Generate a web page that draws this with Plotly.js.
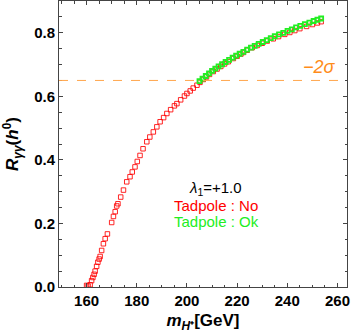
<!DOCTYPE html>
<html>
<head>
<meta charset="utf-8">
<script src="https://cdn.plot.ly/plotly-3.0.1.min.js"></script>
<style>
  html, body { margin: 0; padding: 0; background: #fff; }
  #chart { width: 361px; height: 336px; }
</style>
</head>
<body>
<div id="chart"></div>
<script>
// Tadpole : No (red) points, m_H+ vs R_gamma gamma
const mNo = [160.0, 160.6, 161.4, 162.0, 162.5, 163.0, 163.4, 164.0, 164.5, 165.0,
  165.4, 166.0, 166.7, 167.4, 168.3, 170.0, 170.7, 171.4, 172.0, 172.5,
  173.6, 174.7, 176.0, 177.3, 178.2, 179.3, 180.2, 181.3, 182.5, 184.0,
  185.2, 186.6, 188.0, 189.3, 190.7, 192.0, 193.5, 195.0, 196.0, 197.5,
  199.0, 200.0, 201.3, 202.5, 204.0, 205.2, 206.5, 207.8, 209.0, 210.5,
  212.0, 213.5, 215.0, 216.5, 218.5, 220.0, 221.5, 222.5, 224.0, 226.0,
  228.0, 230.0, 232.0, 234.4, 236.5, 239.0, 241.0, 243.0, 245.0, 247.7,
  250.0, 252.0, 253.5];
const rNo = [0.005, 0.003, 0.007, 0.020, 0.030, 0.040, 0.050, 0.065, 0.078, 0.088,
  0.096, 0.115, 0.136, 0.152, 0.167, 0.203, 0.222, 0.237, 0.255, 0.262,
  0.283, 0.305, 0.331, 0.347, 0.362, 0.378, 0.395, 0.414, 0.435, 0.457,
  0.472, 0.488, 0.504, 0.520, 0.533, 0.546, 0.558, 0.570, 0.577, 0.589,
  0.601, 0.609, 0.617, 0.626, 0.635, 0.644, 0.653, 0.661, 0.669, 0.678,
  0.686, 0.694, 0.702, 0.709, 0.719, 0.726, 0.733, 0.738, 0.745, 0.753,
  0.760, 0.767, 0.774, 0.781, 0.788, 0.795, 0.801, 0.807, 0.813, 0.820,
  0.826, 0.831, 0.835];

// Tadpole : Ok (green) points
const mOk = [205.0, 206.2, 207.5, 208.8, 210.0, 211.3, 212.6, 214.0, 215.4, 216.8,
  218.2, 219.6, 221.0, 222.5, 224.0, 225.5, 227.0, 228.6, 230.2, 231.8,
  233.4, 235.0, 236.7, 238.4, 240.1, 241.8, 243.5, 245.2, 247.0, 248.8,
  250.5, 252.0, 253.5];
const rOk = [0.648, 0.656, 0.664, 0.672, 0.680, 0.687, 0.694, 0.701, 0.708, 0.715,
  0.722, 0.728, 0.734, 0.740, 0.747, 0.753, 0.759, 0.765, 0.771, 0.777,
  0.783, 0.789, 0.795, 0.800, 0.806, 0.811, 0.817, 0.822, 0.827, 0.832,
  0.837, 0.841, 0.845];

const limit2sigma = 0.65;
const xRange = [149.0, 263.8];
const yRange = [0, 0.9];

const fontFamily = "Liberation Sans, Arial, sans-serif";

const traces = [
  {
    x: mNo, y: rNo, type: "scatter", mode: "markers", name: "No",
    marker: { symbol: "square-open", size: 4.5, color: "rgba(255,0,0,0.85)", line: { width: 1 } },
  },
  {
    x: mOk, y: rOk, type: "scatter", mode: "markers", name: "Ok",
    marker: { symbol: "square-open", size: 4, color: "#22ee22", line: { width: 1.8 } },
  },
];

const axisCommon = {
  showline: true, linecolor: "#444", linewidth: 1, mirror: "ticks",
  ticks: "inside", ticklen: 4, tickcolor: "#444", tickwidth: 1,
  showgrid: false, zeroline: false,
  tickfont: { family: fontFamily, size: 15, color: "#000", weight: "bold" },
};

const layout = {
  width: 361, height: 336,
  margin: { l: 59, r: 14, t: 1, b: 49 },
  paper_bgcolor: "#fff", plot_bgcolor: "#fff",
  showlegend: false,
  font: { family: fontFamily },
  xaxis: {
    ...axisCommon,
    range: xRange, tick0: 160, dtick: 20,
    minor: { dtick: 5, ticks: "inside", ticklen: 2.5, tickcolor: "#444" },
    title: {
      text: "<b><i>m</i><sub><i>H</i>⁺</sub>[GeV]</b>",
      font: { family: fontFamily, size: 17, color: "#000" },
      standoff: 6,
    },
  },
  yaxis: {
    ...axisCommon,
    range: yRange, tick0: 0, dtick: 0.2, tickformat: ".1f",
    minor: { dtick: 0.05, ticks: "inside", ticklen: 2.5, tickcolor: "#444" },
    title: {
      text: "<b><i>R</i><sub><i>γγ</i></sub>(<i>h</i><sup>0</sup>)</b>",
      font: { family: fontFamily, size: 17, color: "#000" },
      standoff: 11,
    },
  },
  shapes: [
    {
      type: "line", xref: "x", yref: "y",
      x0: xRange[0], x1: xRange[1], y0: limit2sigma, y1: limit2sigma,
      line: { color: "#ffa64d", width: 1, dash: "dash" },
    },
  ],
  annotations: [
    {
      x: 253, y: 0.693, xref: "x", yref: "y", showarrow: false,
      text: "<i>−2σ</i>", font: { family: fontFamily, size: 18, color: "#ff8c1a" },
    },
    {
      x: 211.4, y: 0.311, xref: "x", yref: "y", showarrow: false,
      text: "<i>λ</i><sub>1</sub>=+1.0", font: { family: fontFamily, size: 15, color: "#000" },
    },
    {
      x: 211.6, y: 0.255, xref: "x", yref: "y", showarrow: false,
      text: "Tadpole : No", font: { family: fontFamily, size: 15, color: "#ff0000" },
    },
    {
      x: 211.6, y: 0.205, xref: "x", yref: "y", showarrow: false,
      text: "Tadpole : Ok", font: { family: fontFamily, size: 15, color: "#22ee22" },
    },
  ],
};

Plotly.newPlot("chart", traces, layout, { staticPlot: true });
</script>
</body>
</html>
